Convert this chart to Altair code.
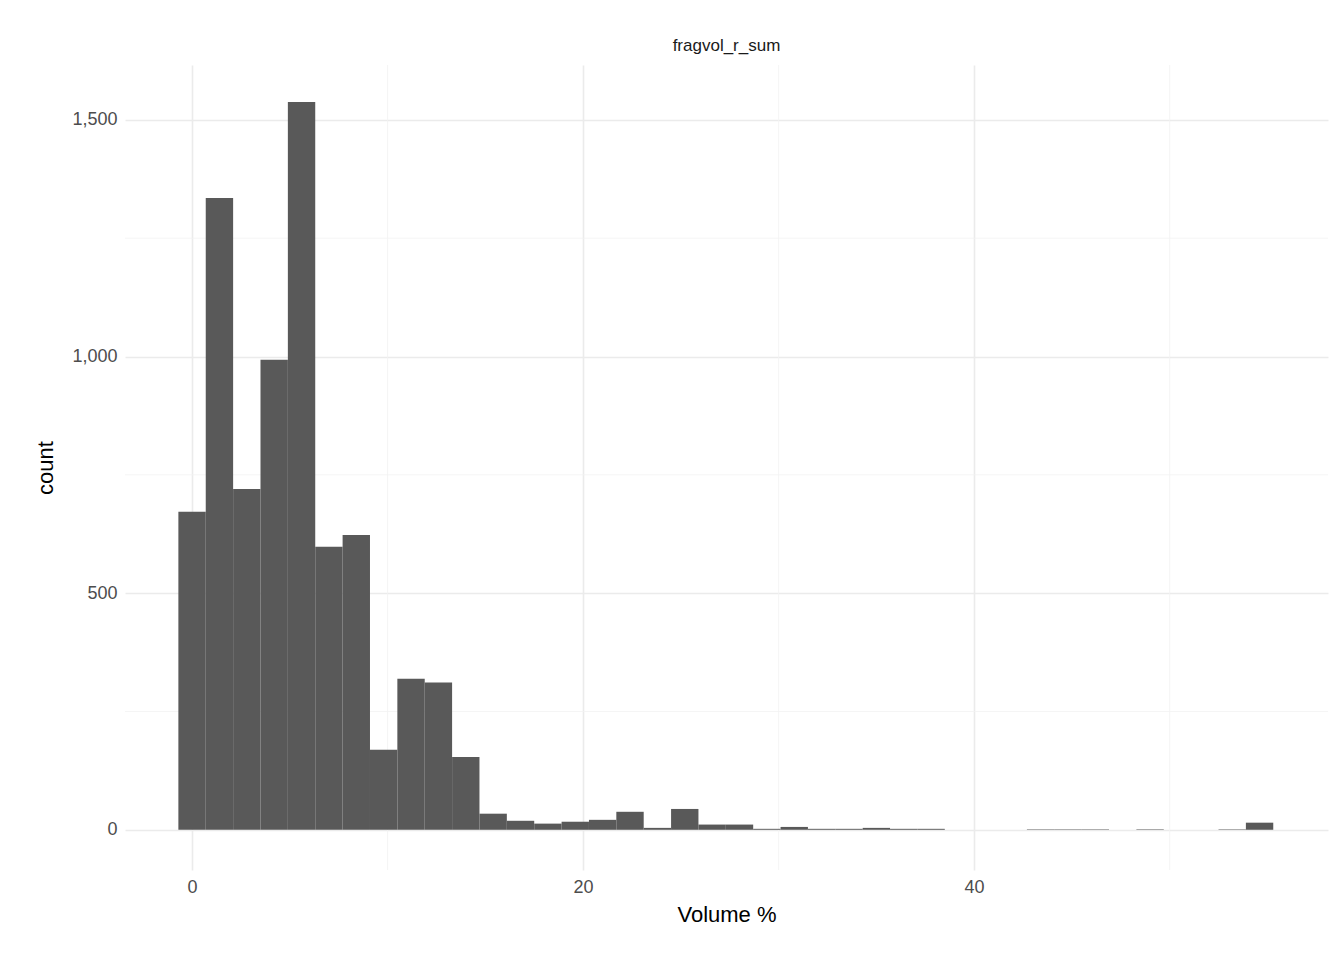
import altair as alt
import pandas as pd

# histogram bins (40 bins, width 1.4, starting at -0.7)
bin_start = -0.7
bin_width = 1.4
counts = [672, 1335, 720, 993, 1538, 598, 623, 169, 319, 311,
          154, 34, 19, 13, 17, 21, 38, 4, 44, 11,
          11, 2, 6, 2, 2, 4, 2, 2, 0, 0,
          0, 1, 1, 1, 0, 1, 0, 0, 1, 15]

df = pd.DataFrame({
    "x0": [bin_start + i * bin_width for i in range(len(counts))],
    "count": counts,
})
df["x1"] = df["x0"] + bin_width

minor_x = [10, 30, 50]
minor_y = [250, 750, 1250]

xs = alt.Scale(domain=[-3.43, 58.1], nice=False, zero=False)
ys = alt.Scale(domain=[-85, 1616], nice=False, zero=False)

bars = alt.Chart(df).mark_rect(color="#595959").encode(
    x=alt.X("x0:Q", scale=xs, title="Volume %",
            axis=alt.Axis(values=[0, 20, 40], gridColor="#EBEBEB", gridWidth=1.6)),
    x2="x1:Q",
    y=alt.Y("count:Q", scale=ys, title="count",
            axis=alt.Axis(values=[0, 500, 1000, 1500], gridColor="#EBEBEB", gridWidth=1.6)),
    y2=alt.datum(0),
)

vminor = alt.Chart(pd.DataFrame({"v": minor_x})).mark_rule(color="#F3F3F3", strokeWidth=0.8).encode(
    x=alt.X("v:Q", scale=xs))
hminor = alt.Chart(pd.DataFrame({"v": minor_y})).mark_rule(color="#F3F3F3", strokeWidth=0.8).encode(
    y=alt.Y("v:Q", scale=ys))

chart = alt.layer(vminor, hminor, bars).properties(
    width=1203, height=805,
    autosize="none",
    padding={"left": 117, "top": 57, "right": 8, "bottom": 82},
    title=alt.TitleParams("fragvol_r_sum", fontSize=17, fontWeight="normal",
                          font="Liberation Sans", color="#1A1A1A", offset=10),
).configure_view(stroke=None).configure_axis(
    domain=False, ticks=False, labelFont="Liberation Sans", titleFont="Liberation Sans",
    labelFontSize=18, labelColor="#4D4D4D", titleFontSize=22, titleFontWeight="normal",
    titleColor="#000000", labelPadding=8,
).configure_axisX(titlePadding=8).configure_axisY(titlePadding=14)

chart.save("out.html", embed_options={"renderer": "svg", "actions": False})
